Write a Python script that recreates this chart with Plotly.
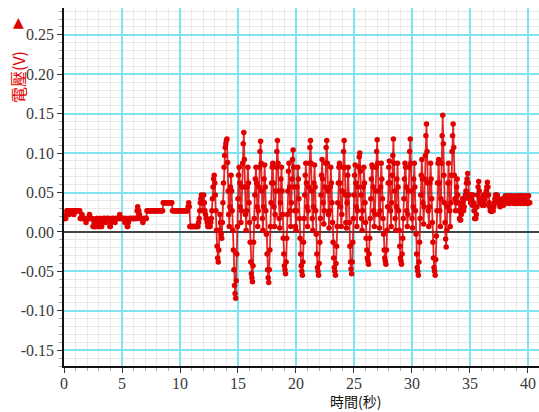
import numpy as np
import plotly.graph_objects as go

sample_interval_s = 0.05

# 0 s - 12.95 s : quiet stretch
volt_mv_quiet = [
    17, 17, 17, 17, 22,
    27, 27, 27, 27, 22, 27, 27, 27, 27, 27, 27, 27, 22, 27, 27, 27, 27, 27, 27, 27, 27, 27, 27,
    17, 17, 17, 22, 17, 17, 17, 17, 17, 17, 12, 17, 17, 17, 17, 17, 22, 17, 17, 17, 17, 17,
    7, 7, 12, 7, 7, 7, 17, 17, 12, 7, 7, 7, 17, 17, 7, 7, 12, 17,
    17, 17, 17, 17, 12, 17, 17, 17, 17, 17, 17,
    7, 7, 12, 17,
    17, 17, 17, 17, 17, 12, 17, 17, 17, 17, 17, 17, 17, 22, 17, 17, 17, 17, 17, 17, 17, 17, 12, 17, 17, 17,
    7, 7, 12,
    17, 17, 17, 17, 17, 17, 17, 17, 17, 17, 17, 17, 17, 17,
    27, 32, 27, 27, 22, 17,
    17, 17, 17, 17, 12, 17, 17, 17, 17, 17, 17,
    27, 27, 27, 27, 27, 27, 27, 27, 27, 27, 27, 27, 27, 27, 27, 27, 27, 27, 27, 27, 27, 27, 27, 27, 27, 27, 27, 27,
    37, 37, 37, 37, 37, 37, 37, 37, 37, 37, 37, 37, 37, 37, 37, 37,
    27, 27, 27, 27, 27, 27, 27, 27, 27, 27, 27, 27, 27, 27, 27, 27, 27, 27, 27, 27, 27, 27, 27, 27, 27, 27, 27,
    32, 37, 32,
    7, 7, 7, 7, 7, 7, 7, 7, 7, 7, 7, 7, 7, 7, 7,
    12, 17, 27, 37, 42, 47, 37, 27, 37, 47,
    37, 27, 22, 17, 17, 12, 7, 7, 12, 7, 7, 12,
    17, 27, 42, 57, 67, 72,
]

# 13 s - 33.95 s : oscillating burst
volt_mv_burst = [
    62, 47, 27, 2, -18, -33, -38, -23, 2, 22, 12, -3, -8, 12, 37, 62, 82, 97, 107, 112, 116,
    118,
    88, 52, 22, 7, 32, 57, 72, 52, 27, 2, -23, -48, -68, -78, -84,
    -62, -28, 7, 42, 72, 82, 62, 32, 12, 27, 57, 87, 112, 126,
    92, 57, 22, 2, 27, 57, 82, 62, 37, 12, -13, -38, -53, -58, -63,
    -43, -13, 17, 47, 67, 82, 62, 32, 7, 27, 57, 82, 102, 115,
    87, 52, 17, 2, 32, 67, 85, 57, 27, -3, -28, -48, -58, -64,
    -48, -23, 7, 37, 62, 82, 87, 62, 32, 7, 22, 52, 82, 102, 116,
    87, 52, 17, 5, 37, 67, 82, 52, 22, -8, -28, -43, -48, -53,
    -38, -8, 22, 52, 77, 87, 57, 27, 7, 37, 67, 92, 104,
    82, 57, 27, 7, 2, 27, 57, 82, 67, 42, 17, -8, -28, -43, -50, -55,
    -38, -13, 17, 47, 72, 87, 62, 32, 7, 27, 57, 87, 107, 116,
    87, 52, 17, 2, 32, 62, 85, 57, 27, -3, -28, -45, -50, -55,
    -40, -13, 17, 47, 72, 92, 67, 37, 10, 27, 57, 87, 107, 116,
    87, 52, 22, 5, 27, 57, 82, 62, 37, 12, -13, -33, -45, -50, -55,
    -40, -18, 7, 37, 62, 82, 87, 62, 32, 7, 22, 52, 82, 102, 116,
    82, 47, 12, 5, 37, 72, 82, 47, 12, -18, -38, -47, -53,
    -38, -13, 17, 47, 72, 85, 62, 32, 7, 27, 57, 82, 95, 100,
    77, 47, 17, 2, 27, 57, 82, 62, 37, 12, -8, -23, -33, -37, -41,
    -28, -8, 17, 42, 67, 85, 82, 57, 27, 7, 22, 52, 82, 102, 117,
    87, 52, 22, 5, 27, 57, 87, 67, 42, 17, -3, -23, -33, -37, -41,
    -23, 2, 32, 62, 82, 90, 62, 27, 7, 37, 72, 97, 118,
    87, 52, 17, 2, 32, 67, 87, 57, 27, 2, -18, -33, -37, -41,
    -28, -8, 17, 42, 67, 87, 82, 57, 27, 7, 22, 52, 82, 102, 118,
    87, 52, 17, 5, 32, 67, 87, 57, 27, -3, -28, -45, -50, -55,
    -38, -13, 17, 47, 72, 92, 67, 37, 10, 32, 67, 97, 122, 137,
    102, 62, 27, 7, 32, 62, 87, 67, 42, 12, -13, -33, -45, -50, -55,
    -35, -5, 27, 62, 87, 92, 62, 27, 7, 42, 87, 122, 148,
    112, 72, 37, 12, -9, -19,
    2, 32, 62, 87, 62, 27, 7, 37, 72, 102, 122, 137,
    107, 72, 42, 27, 37, 57, 67, 47,
]

# 34 s - 40.15 s : settling
volt_mv_settle = [
    37, 27, 17, 15, 15, 22, 32, 42, 37, 27,
    32, 42, 47, 52, 62, 67, 74, 62, 47, 42,
    47, 37, 47, 42, 34, 47, 37, 27, 17, 17,
    17, 22, 32, 47, 57, 64, 52, 42, 37, 42,
    37, 34, 42, 47, 37, 34, 42, 47, 52, 57,
    63, 57, 47, 37, 32, 27, 27, 26, 27, 32,
    27, 32, 37, 42, 47, 47, 42, 47, 37, 42,
    37, 34, 32, 37, 34, 37, 42, 37, 34, 37,
    42, 46, 42, 37, 37, 42, 46, 37, 36, 37,
    37, 46, 46, 42, 37, 37, 36, 37, 42, 46,
    37, 36, 37, 37, 46, 42, 37, 36, 37, 46,
    46, 37, 37, 36, 37, 42, 46, 37, 37, 36,
    37, 46, 37, 37,
]

y_tick_values = [-0.15, -0.10, -0.05, 0.00, 0.05, 0.10, 0.15, 0.20, 0.25]
y_tick_labels = ["-0.15", "-0.10", "-0.05", "0.00", "0.05", "0.10", "0.15", "0.20", "0.25"]
x_tick_values = [0, 5, 10, 15, 20, 25, 30, 35, 40]
x_tick_labels = ["0", "5", "10", "15", "20", "25", "30", "35", "40"]

x_title = "時間(秒)"
y_title = "電壓(V)"

# ---- build series ----
volt_mv = np.array(volt_mv_quiet + volt_mv_burst + volt_mv_settle, dtype=float)
volts = volt_mv / 1000.0
times = np.arange(len(volts)) * sample_interval_s

RED = "#e00000"
CYAN = "#7fe4ee"
MINOR = "#e9e9e9"
TICKFONT = dict(family="Liberation Serif", size=16, color="#3a3a3a")

fig = go.Figure()
fig.add_trace(go.Scatter(
    x=times, y=volts, mode="lines+markers",
    line=dict(color="rgba(224,0,0,0.85)", width=1.8),
    marker=dict(size=5.5, color=RED),
    showlegend=False,
))

fig.update_layout(
    width=539, height=412,
    margin=dict(l=64, r=0, t=8, b=46),
    paper_bgcolor="white", plot_bgcolor="white",
    xaxis=dict(
        range=[0, 40.95],
        tickvals=x_tick_values, ticktext=x_tick_labels,
        showgrid=True, gridcolor=CYAN, gridwidth=1.5,
        zeroline=False,
        showline=True, linecolor="#111", linewidth=1.5,
        ticks="outside", ticklen=5, tickcolor="#333", tickwidth=1,
        tickfont=TICKFONT, ticklabelstandoff=-3,
        minor=dict(dtick=1, tick0=0, showgrid=True, gridcolor=MINOR, gridwidth=1,
                   ticks="outside", ticklen=3, tickcolor="#aaa"),
    ),
    yaxis=dict(
        range=[-0.17, 0.284],
        tickvals=y_tick_values, ticktext=y_tick_labels,
        showgrid=True, gridcolor=CYAN, gridwidth=1.5,
        zeroline=True, zerolinecolor="#444", zerolinewidth=1.5,
        showline=True, linecolor="#111", linewidth=1.5,
        ticks="outside", ticklen=5, tickcolor="#333", tickwidth=1,
        tickfont=TICKFONT,
        minor=dict(dtick=0.01, tick0=0, showgrid=True, gridcolor=MINOR, gridwidth=1,
                   ticks="outside", ticklen=3, tickcolor="#aaa"),
    ),
    annotations=[
        dict(text=x_title, xref="paper", yref="paper",
             x=(355 - 64) / 475, y=-(401 - 366) / 358,
             xanchor="center", yanchor="middle", showarrow=False,
             font=dict(family="Noto Sans CJK TC", size=14, color="#111")),
        dict(text=y_title, xref="paper", yref="paper",
             x=-(64 - 18) / 475, y=(366 - 77) / 358,
             xanchor="center", yanchor="middle", showarrow=False, textangle=-90,
             font=dict(family="Noto Sans CJK TC", size=16, color=RED)),
        dict(text="▲", xref="paper", yref="paper",
             x=-(64 - 18) / 475, y=(366 - 22) / 358,
             xanchor="center", yanchor="middle", showarrow=False,
             font=dict(family="DejaVu Sans", size=14, color=RED)),
    ],
)

fig.write_html("out.html")
